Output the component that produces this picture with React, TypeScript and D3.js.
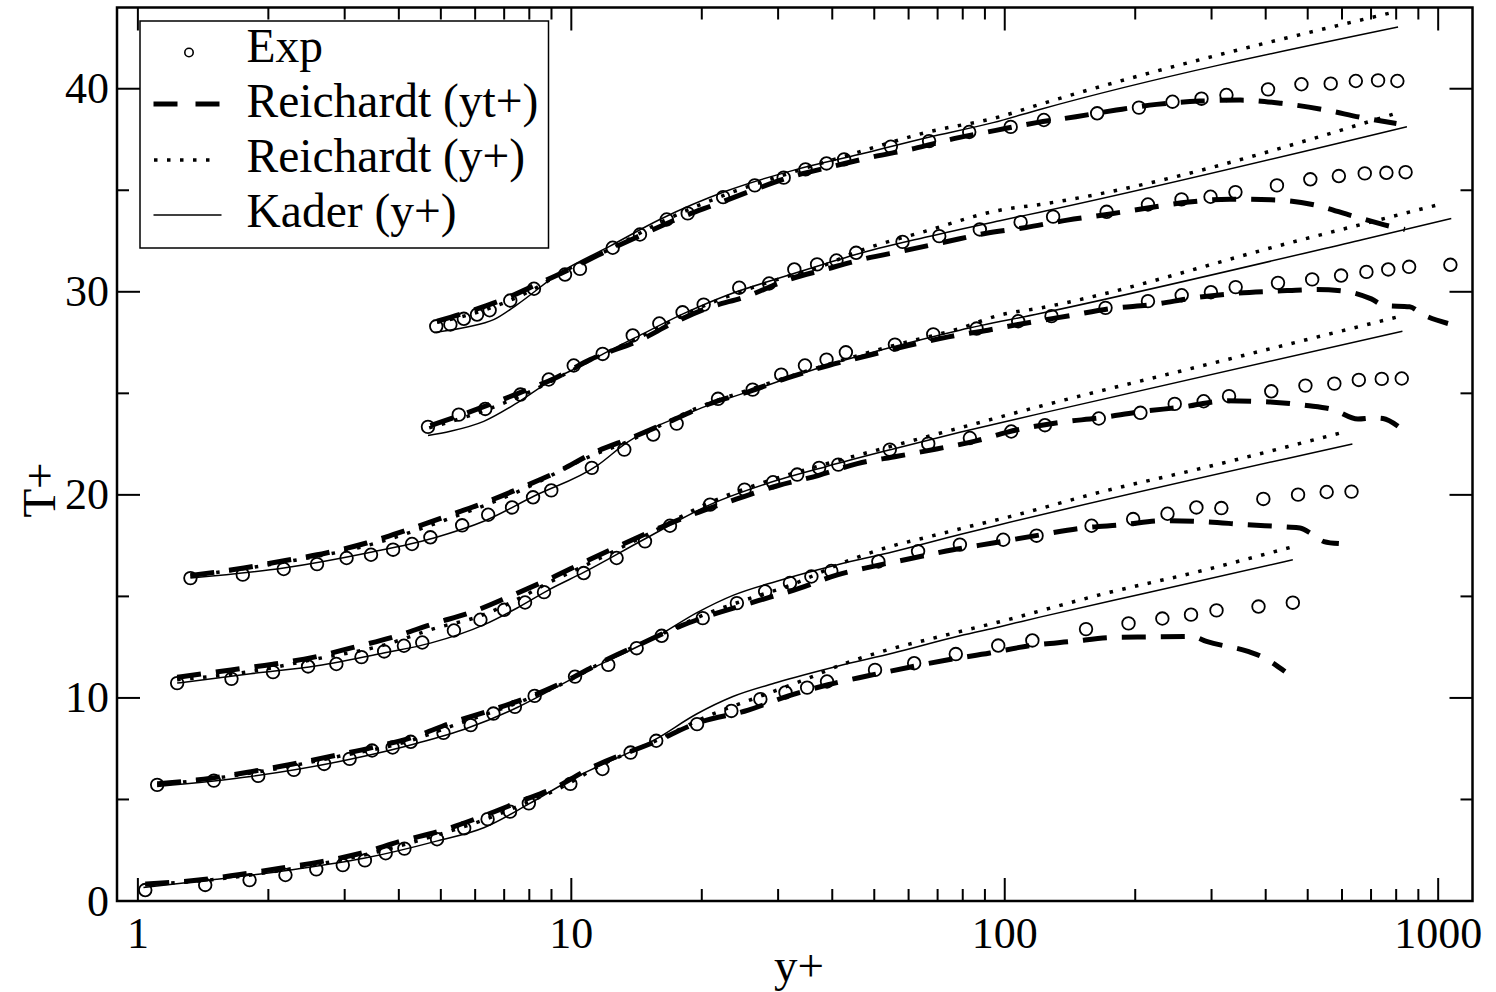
import React from 'react';
import * as d3 from 'd3';

type P = [number, number];

// ---------- axis ticks ----------
const xTickValues = [1, 10, 100, 1000];
const xTickLabels = ['1', '10', '100', '1000'];
const xMinorTicks = [2, 3, 4, 5, 6, 7, 8, 9, 20, 30, 40, 50, 60, 70, 80, 90, 200, 300, 400, 500, 600, 700, 800, 900];
const yTickValues = [0, 10, 20, 30, 40];
const yTickLabels = ['0', '10', '20', '30', '40'];
const yMinorTicks = [5, 15, 25, 35];
const legendLabels = ['Exp', 'Reichardt (yt+)', 'Reichardt (y+)', 'Kader (y+)'];

// ---------- group A ----------
const expA: P[] = [[1.04,0.54],[1.43,0.79],[1.81,1.03],[2.19,1.28],[2.58,1.56],[2.97,1.77],[3.34,2.0],[3.73,2.35],[4.12,2.58],[4.9,3.04],[5.66,3.58],[6.41,4.03],[7.22,4.4],[7.98,4.81],[9.95,5.77],[11.8,6.5],[13.7,7.31],[15.7,7.89],[19.5,8.71],[23.4,9.36],[27.3,9.94],[31.2,10.27],[35.0,10.51],[38.9,10.81],[50.2,11.38],[61.8,11.71],[77.1,12.16],[96.6,12.58],[115.8,12.83],[154,13.39],[193,13.67],[231,13.91],[269,14.1],[308,14.31],[385,14.5],[462,14.69]];
const rytA: P[] = [[1.04,0.84],[1.38,1.03],[1.72,1.31],[2.13,1.61],[2.65,1.94],[3.27,2.35],[4.05,2.95],[4.99,3.45],[6.2,4.15],[7.59,4.89],[9.27,5.63],[11.06,6.54],[15.65,7.85],[19.5,8.76],[25.6,9.4],[31.7,10.1],[39.1,10.65],[48.4,11.09],[59.9,11.5],[74.1,11.88],[92.4,12.21],[114,12.57],[142.6,12.78],[178,12.98],[220,13.01],[270,13.03],[292,12.78],[364,12.29],[391,12.04],[443,11.3]];
const ryA: P[] = [[1.04,0.8],[1.5,1.06],[2.2,1.55],[3.3,2.25],[4.9,3.25],[6.3,4.0],[7.8,4.8],[9.5,5.6],[11.5,6.6],[15.7,7.9],[20.5,9.08],[27.2,10.07],[33.7,10.81],[44.0,11.79],[54.3,12.4],[67.2,12.9],[83.1,13.39],[102.8,13.88],[119.4,14.26],[168.6,15.12],[277,16.2],[459,17.43]];
const kaderA: P[] = [[1.03,0.67],[1.52,1.07],[2.25,1.53],[3.32,2.1],[4.91,2.96],[6.28,3.61],[7.98,4.78],[9.95,5.96],[15.7,7.98],[19.5,9.22],[23.6,10.07],[29.8,10.76],[40.9,11.55],[55.3,12.21],[78.8,13.06],[97.5,13.51],[120.5,13.98],[212,15.17],[462,16.8]];

// ---------- group B ----------
const expB: P[] = [[1.108,5.72],[1.497,5.93],[1.895,6.16],[2.29,6.46],[2.69,6.75],[3.08,7.0],[3.47,7.41],[3.87,7.56],[4.26,7.84],[5.07,8.28],[5.86,8.66],[6.61,9.23],[7.41,9.56],[8.23,10.1],[10.2,11.05],[12.17,11.63],[14.15,12.45],[16.16,13.06],[20.1,13.93],[24.1,14.67],[28.0,15.24],[31.95,15.66],[35.8,15.98],[39.8,16.25],[51.1,16.72],[63.1,17.22],[78.8,17.55],[99.2,17.79],[118.4,17.99],[158.6,18.48],[197.8,18.81],[237.4,19.07],[276.8,19.38],[316,19.35],[395,19.8],[475,20.01],[553,20.14],[631,20.16]];
const rytB: P[] = [[1.108,5.77],[1.476,6.05],[1.825,6.37],[2.28,6.75],[2.83,7.15],[3.49,7.57],[4.33,8.08],[5.31,8.79],[6.56,9.41],[8.04,10.07],[9.86,10.9],[11.85,11.8],[14.5,12.67],[17.9,13.55],[21.95,14.21],[27.1,14.8],[33.4,15.38],[40.9,16.05],[49.7,16.48],[61.5,16.89],[76,17.3],[94,17.63],[121.5,18.04],[151.8,18.37],[187.5,18.53],[231.8,18.73],[289,18.68],[361,18.53],[447,18.42],[480,18.37],[514,18.04],[545,17.7],[590,17.6]];
const ryB: P[] = [[1.108,5.72],[1.825,6.3],[2.83,7.07],[4.33,7.95],[5.31,8.62],[6.56,9.3],[8.04,10.0],[9.86,10.85],[12,11.85],[16,13.1],[20,14.05],[25,14.8],[32,15.55],[44,16.8],[54.3,17.45],[67.2,17.95],[83.1,18.45],[102.8,18.93],[168.6,20.17],[277,21.25],[603,23.08]];
const kaderB: P[] = [[1.108,5.64],[1.82,6.13],[3.09,6.98],[4.41,7.77],[5.75,8.51],[7.5,9.53],[8.94,10.37],[10.68,11.25],[15.7,13.0],[19.5,14.2],[23.6,15.05],[29.8,15.75],[40.9,16.55],[55.3,17.2],[78.8,18.05],[97.4,18.53],[634,22.51]];

// ---------- group C ----------
const expC: P[] = [[1.232,10.73],[1.644,10.94],[2.05,11.27],[2.47,11.55],[2.87,11.67],[3.28,12.01],[3.7,12.29],[4.11,12.57],[4.53,12.73],[5.36,13.32],[6.17,13.85],[7.0,14.34],[7.82,14.7],[8.65,15.21],[10.68,16.15],[12.72,16.89],[14.79,17.71],[16.89,18.48],[20.9,19.52],[25.1,20.26],[29.2,20.62],[33.2,21.0],[37.3,21.33],[41.3,21.49],[54.3,22.23],[66.6,22.52],[83.1,22.8],[103.5,23.12],[123.8,23.43],[164.8,23.76],[205.6,24.04],[246.7,24.48],[287.7,24.61],[329.2,24.86],[412,25.1],[494,25.38],[576,25.48],[656,25.66],[741,25.71],[824,25.73]];
const rytC: P[] = [[1.232,11.02],[1.641,11.38],[2.05,11.66],[2.55,12.01],[3.14,12.49],[3.88,13.0],[4.8,13.65],[5.9,14.23],[7.3,15.05],[8.82,15.82],[10.75,16.7],[13.07,17.55],[16.16,18.42],[19.63,19.14],[24.1,19.8],[29.9,20.45],[37.1,20.95],[45.7,21.54],[56.5,21.9],[69.6,22.26],[86.4,22.67],[101,23.08],[134,23.57],[165.4,23.79],[206.7,24.1],[257.9,24.33],[324.7,24.63],[398,24.59],[497,24.4],[572,24.2],[653,23.74],[707,23.79],[746,23.76],[808,23.38]];
const ryC: P[] = [[1.232,10.9],[1.82,11.3],[2.55,11.9],[3.69,12.6],[4.8,13.4],[6.28,14.1],[7.5,14.85],[8.82,15.65],[10.7,16.5],[14.66,17.95],[20.9,19.63],[28.2,20.66],[38.8,21.53],[55.3,22.42],[78.8,23.3],[120.5,24.36],[282,26.33],[830,28.83]];
const kaderC: P[] = [[1.232,10.73],[1.82,11.19],[2.59,11.58],[3.69,12.21],[4.73,12.7],[6.28,13.6],[7.5,14.43],[8.94,15.36],[10.68,16.18],[14.66,17.79],[20.9,19.52],[28.2,20.55],[38.8,21.4],[55.3,22.26],[78.8,23.08],[120.5,24.0],[827,28.06]];

// ---------- group D ----------
const expD: P[] = [[1.322,15.9],[1.746,16.07],[2.17,16.35],[2.59,16.59],[3.03,16.89],[3.45,17.05],[3.88,17.3],[4.29,17.58],[4.73,17.91],[5.6,18.5],[6.43,19.02],[7.3,19.38],[8.16,19.88],[8.99,20.22],[11.15,21.33],[13.25,22.23],[15.45,22.97],[17.5,23.51],[21.8,24.73],[26.2,25.18],[30.5,25.92],[34.6,26.37],[38.8,26.66],[43.0,27.02],[55.8,27.4],[68.4,27.9],[86.1,28.19],[107.4,28.55],[128.2,28.8],[170.8,29.21],[214,29.54],[256,29.83],[299,29.98],[341,30.23],[427,30.44],[512,30.61],[597,30.8],[683,30.98],[767,31.1],[857,31.23],[1067,31.33]];
const rytD: P[] = [[1.322,16.03],[1.756,16.4],[2.19,16.77],[2.72,17.14],[3.37,17.63],[4.15,18.25],[5.1,18.91],[6.28,19.6],[7.7,20.37],[9.35,21.16],[11.2,22.05],[13.9,22.85],[17.1,23.67],[20.97,24.5],[25.8,25.1],[31.55,25.76],[39.2,26.37],[48.4,26.86],[59.9,27.35],[74.1,27.78],[91.5,28.11],[107.4,28.39],[141.8,28.83],[177,29.18],[219.8,29.37],[273,29.7],[339.6,29.92],[423.6,30.03],[523.6,30.11],[608,30.03],[701,29.65],[753,29.32],[859,29.26],[922,28.88],[1053.5,28.44]];
const ryD: P[] = [[1.322,16.0],[2.19,16.7],[3.37,17.5],[5.1,18.75],[7.7,20.25],[11.06,21.9],[13.4,22.6],[19.1,24.2],[27.2,25.35],[38.8,26.4],[55.3,27.35],[78.8,28.2],[97.4,28.85],[120.5,29.2],[462,32.45],[1026,34.35]];
const kaderD: P[] = [[1.322,15.9],[2.17,16.4],[3.38,17.14],[4.82,17.88],[6.28,18.7],[8.19,19.93],[11.47,21.44],[13.4,22.56],[19.1,24.12],[27.2,25.27],[38.8,26.37],[55.3,27.29],[78.8,28.11],[120.5,28.93],[671,32.58],[1072,33.61]];

// ---------- group E ----------
const expE: P[] = [[4.67,23.35],[5.5,23.95],[6.33,24.23],[7.63,24.94],[8.87,25.68],[10.13,26.37],[11.81,26.94],[13.86,27.85],[15.96,28.44],[18.06,28.99],[20.2,29.37],[24.4,30.2],[28.6,30.41],[32.7,31.1],[36.9,31.35],[40.9,31.54],[45.4,31.92],[58.1,32.46],[70.6,32.74],[87.6,33.07],[108.8,33.43],[129.3,33.7],[171.8,33.94],[214,34.3],[255.8,34.55],[298.4,34.68],[340.6,34.91],[424.6,35.24],[507,35.54],[590,35.7],[677,35.83],[759.5,35.86],[841,35.89]];
const rytE: P[] = [[4.73,23.41],[6.17,24.28],[7.59,25.02],[9.19,25.76],[11.06,26.66],[14.66,27.7],[16.9,28.39],[20.7,29.21],[25.4,29.78],[31.4,30.57],[38.5,31.1],[47.6,31.63],[58.5,32.02],[72.8,32.45],[90.0,32.87],[111.9,33.17],[139.3,33.53],[172.2,33.81],[215.4,34.14],[266,34.42],[330.4,34.56],[412,34.53],[512.6,34.3],[636,33.73],[784,33.2],[838,33.07]];
const ryE: P[] = [[4.7,23.3],[6.2,24.1],[7.6,24.85],[9.2,25.7],[11,26.6],[14.66,27.85],[18.1,28.85],[22.8,29.75],[29.8,30.6],[38.8,31.35],[44.7,31.9],[66,33.0],[97.4,34.02],[120.5,34.3],[808,38.82]];
const kaderE: P[] = [[4.67,22.92],[5.26,23.13],[6.28,23.62],[7.5,24.53],[8.94,25.6],[10.68,26.42],[11.85,26.94],[14.66,27.94],[18.1,28.91],[22.8,29.82],[29.8,30.64],[38.8,31.4],[44.7,31.8],[66,32.7],[97.4,33.5],[120.5,33.92],[847,38.13]];

// ---------- group F ----------
const expF: P[] = [[4.88,28.3],[5.26,28.39],[5.65,28.67],[6.06,28.88],[6.48,29.09],[7.23,29.57],[8.2,30.15],[9.67,30.85],[10.47,31.13],[12.46,32.17],[14.4,32.82],[16.6,33.56],[18.56,33.86],[22.4,34.66],[26.5,35.24],[30.9,35.62],[34.7,36.03],[38.8,36.32],[42.6,36.52],[54.6,37.15],[66.9,37.42],[82.8,37.87],[103.2,38.12],[123.1,38.46],[163.4,38.79],[204,39.07],[243.8,39.36],[284.4,39.51],[324.7,39.69],[405,39.97],[483.6,40.22],[565,40.25],[645.6,40.38],[726.6,40.41],[805,40.38]];
const rytF: P[] = [[4.9,28.55],[5.85,29.05],[7.2,29.75],[8.3,30.35],[9.67,31.0],[11.75,31.89],[14.4,32.76],[17.65,33.61],[21.6,34.32],[26.3,35.01],[32.6,35.7],[40.4,36.19],[49.7,36.65],[61.7,37.05],[76.3,37.54],[95.4,37.95],[118.4,38.33],[145.9,38.62],[181,38.95],[224,39.23],[281.8,39.39],[350,39.44],[435,39.28],[541,38.98],[671,38.57],[801,38.29]];
const ryF: P[] = [[4.9,28.5],[6.3,29.1],[8.3,30.2],[9.42,30.9],[12.28,32.1],[16,33.4],[22.8,34.8],[32.5,35.9],[46.3,36.9],[66,37.85],[97.4,38.62],[120.5,39.23],[800,43.8]];
const kaderF: P[] = [[4.82,28.0],[5.75,28.27],[6.62,28.63],[7.5,29.37],[9.42,30.94],[12.28,32.25],[16.0,33.56],[22.8,34.96],[32.5,35.98],[46.3,36.77],[66,37.59],[94,38.33],[120.5,38.98],[808,43.04]];

const expSeries = [expA, expB, expC, expD, expE, expF];
const rytSeries = [rytA, rytB, rytC, rytD, rytE, rytF];
const rySeries = [ryA, ryB, ryC, ryD, ryE, ryF];
const kaderSeries = [kaderA, kaderB, kaderC, kaderD, kaderE, kaderF];

const FONT = "'Liberation Serif', 'Times New Roman', Times, serif";

export default function App() {
  const W = 1496;
  const H = 992;
  const left = 117;
  const right = 1472.5;
  const top = 7.5;
  const bottom = 901;

  const x = d3.scaleLog().domain([0.895, 1200]).range([left, right]);
  const y = d3.scaleLinear().domain([0, 44]).range([bottom, top]);
  const line = d3
    .line<P>()
    .x((d) => x(d[0]))
    .y((d) => y(d[1]))
    .curve(d3.curveMonotoneX);

  const majorLen = 23;
  const minorLen = 12;
  const tickW = 2;

  const legendX = 140;
  const legendY = 21;
  const legendW = 408.5;
  const legendH = 227;
  const legendBase = [62, 117, 172, 227];
  const legendSym = [52.5, 104, 160, 215];

  return (
    <div style={{ position: 'absolute', left: 0, top: 0, width: W, height: H, background: '#fff' }}>
      <svg width={W} height={H} viewBox={`0 0 ${W} ${H}`} style={{ display: 'block' }}>
        <rect x={0} y={0} width={W} height={H} fill="#fff" />

        {/* model lines */}
        {kaderSeries.map((s, i) => (
          <path key={'k' + i} d={line(s) || ''} fill="none" stroke="#000" strokeWidth={1.5} />
        ))}
        {rySeries.map((s, i) => (
          <path key={'r' + i} d={line(s) || ''} fill="none" stroke="#000" strokeWidth={3.5} strokeDasharray="3.5 9.5" />
        ))}
        {rytSeries.map((s, i) => (
          <path key={'t' + i} d={line(s) || ''} fill="none" stroke="#000" strokeWidth={5} strokeDasharray="24 15" />
        ))}
        {/* experiment circles */}
        {expSeries.map((s, i) => (
          <g key={'e' + i}>
            {s.map((d, j) => (
              <circle key={j} cx={x(d[0])} cy={y(d[1])} r={6.3} fill="none" stroke="#000" strokeWidth={1.8} />
            ))}
          </g>
        ))}

        {/* frame */}
        <rect x={left} y={top} width={right - left} height={bottom - top} fill="none" stroke="#000" strokeWidth={2.5} />

        {/* x ticks */}
        {xTickValues.map((v) => (
          <g key={'xt' + v}>
            <line x1={x(v)} x2={x(v)} y1={bottom} y2={bottom - majorLen} stroke="#000" strokeWidth={tickW} />
            <line x1={x(v)} x2={x(v)} y1={top} y2={top + majorLen} stroke="#000" strokeWidth={tickW} />
          </g>
        ))}
        {xMinorTicks.map((v) => (
          <g key={'xm' + v}>
            <line x1={x(v)} x2={x(v)} y1={bottom} y2={bottom - minorLen} stroke="#000" strokeWidth={tickW} />
            <line x1={x(v)} x2={x(v)} y1={top} y2={top + minorLen} stroke="#000" strokeWidth={tickW} />
          </g>
        ))}
        {xTickValues.map((v, i) => (
          <text key={'xl' + v} x={x(v)} y={948} textAnchor="middle" fontFamily={FONT} fontSize={44} fill="#000">
            {xTickLabels[i]}
          </text>
        ))}

        {/* y ticks */}
        {yTickValues.map((v) => (
          <g key={'yt' + v}>
            <line x1={left} x2={left + majorLen} y1={y(v)} y2={y(v)} stroke="#000" strokeWidth={tickW} />
            <line x1={right} x2={right - majorLen} y1={y(v)} y2={y(v)} stroke="#000" strokeWidth={tickW} />
          </g>
        ))}
        {yMinorTicks.map((v) => (
          <g key={'ym' + v}>
            <line x1={left} x2={left + minorLen} y1={y(v)} y2={y(v)} stroke="#000" strokeWidth={tickW} />
            <line x1={right} x2={right - minorLen} y1={y(v)} y2={y(v)} stroke="#000" strokeWidth={tickW} />
          </g>
        ))}
        {yTickValues.map((v, i) => (
          <text key={'yl' + v} x={109} y={y(v)} dy="0.33em" textAnchor="end" fontFamily={FONT} fontSize={44} fill="#000">
            {yTickLabels[i]}
          </text>
        ))}

        {/* axis titles */}
        <text x={799} y={981} textAnchor="middle" fontFamily={FONT} fontSize={47} fill="#000">y+</text>
        <text transform="translate(55,490) rotate(-90)" textAnchor="middle" fontFamily={FONT} fontSize={47} fill="#000">T+</text>

        {/* legend */}
        <rect x={legendX} y={legendY} width={legendW} height={legendH} fill="#fff" stroke="#000" strokeWidth={1.5} />
        <circle cx={189} cy={legendSym[0]} r={4.2} fill="none" stroke="#000" strokeWidth={1.6} />
        <line x1={153.5} x2={221.5} y1={legendSym[1]} y2={legendSym[1]} stroke="#000" strokeWidth={5} strokeDasharray="24 18" />
        <line x1={154} x2={218} y1={legendSym[2]} y2={legendSym[2]} stroke="#000" strokeWidth={3.5} strokeDasharray="3.5 9.5" />
        <line x1={153.5} x2={221.5} y1={legendSym[3]} y2={legendSym[3]} stroke="#000" strokeWidth={1.5} />
        {legendLabels.map((t, i) => (
          <text key={t} x={246.5} y={legendBase[i]} fontFamily={FONT} fontSize={47.5} fill="#000">
            {t}
          </text>
        ))}
      </svg>
    </div>
  );
}
